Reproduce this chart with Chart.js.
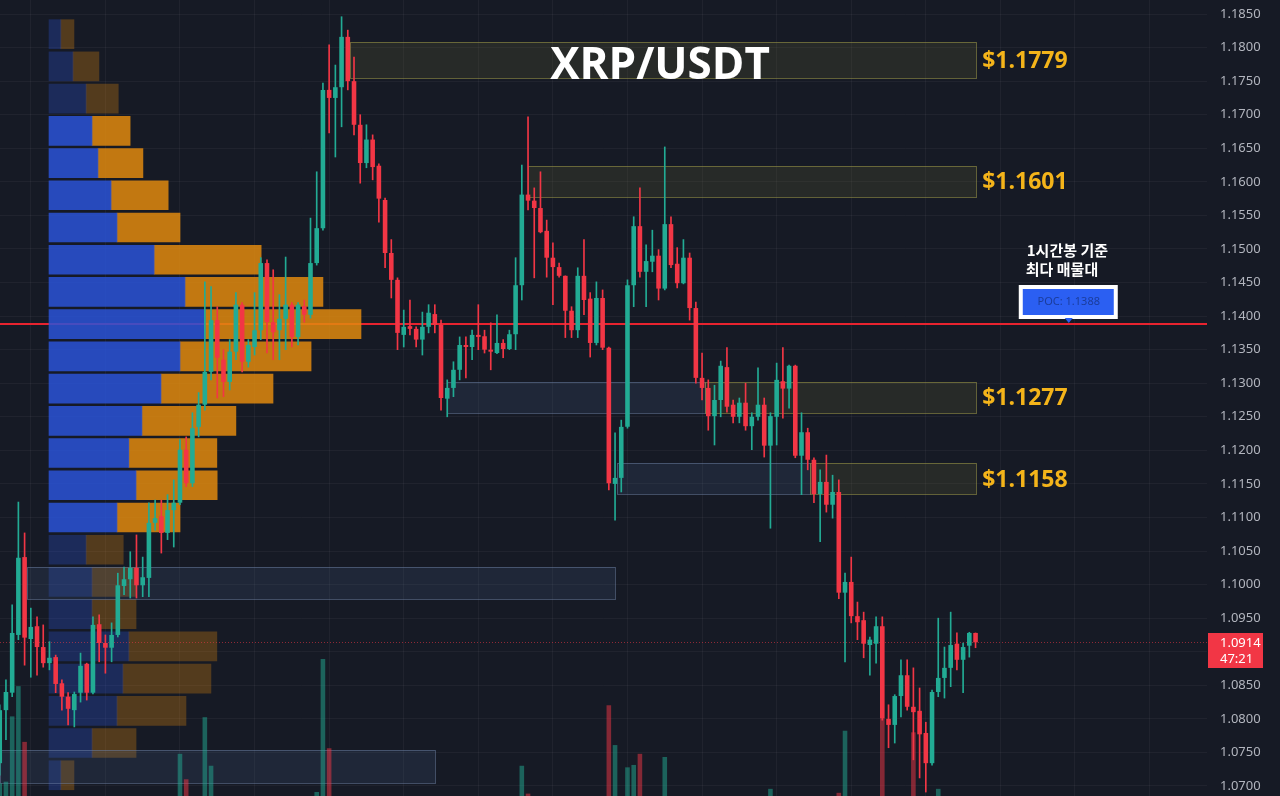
<!DOCTYPE html>
<html>
<head>
<meta charset="utf-8">
<style>
  html, body { margin: 0; padding: 0; background: #161a25; overflow: hidden; }
  #wrap { position: relative; width: 1280px; height: 796px; }
  #wrap canvas { position: absolute; left: 0; top: 0; }
</style>
<script src="https://cdn.jsdelivr.net/npm/chart.js@4.4.1/dist/chart.umd.min.js"></script>
</head>
<body>
<div id="wrap">
  <canvas id="profileChart" width="1280" height="796"></canvas>
  <canvas id="priceChart" width="1280" height="796"></canvas>
</div>
<script>
// 1h candles, XRP/USDT
const opens = [
  1.0734,1.0813,1.0839,1.0925,1.1041,1.0919,1.0938,1.0907,1.0883,1.0892,
  1.0853,1.0833,1.0813,1.0839,1.0882,1.0839,1.0941,1.0913,1.0906,1.0925,
  1.0998,1.1008,1.1025,1.0999,1.1010,1.1092,1.1102,1.1077,1.1111,1.1122,
  1.1201,1.1151,1.1235,1.1268,1.1317,1.1394,1.1335,1.1302,1.1347,1.1417,
  1.1332,1.1354,1.1379,1.1479,1.1391,1.1379,1.1396,1.1417,1.1369,1.1415,
  1.1402,1.1479,1.1531,1.1737,1.1725,1.1741,1.1816,1.1750,1.1685,1.1628,
  1.1663,1.1624,1.1573,1.1494,1.1454,1.1372,1.1385,1.1381,1.1365,1.1384,
  1.1403,1.1387,1.1277,1.1293,1.1320,1.1357,1.1354,1.1372,1.1370,1.1350,
  1.1345,1.1360,1.1351,1.1373,1.1446,1.1581,1.1572,1.1561,1.1527,1.1487,
  1.1473,1.1460,1.1408,1.1379,1.1460,1.1426,1.1360,1.1427,1.1353,1.1150,
  1.1159,1.1235,1.1446,1.1534,1.1466,1.1481,1.1490,1.1441,1.1537,1.1478,
  1.1449,1.1487,1.1412,1.1308,1.1293,1.1251,1.1275,1.1324,1.1268,1.1250,
  1.1271,1.1236,1.1250,1.1268,1.1207,1.1250,1.1303,1.1292,1.1326,1.1192,
  1.1227,1.1186,1.1135,1.1153,1.1119,1.1138,1.0988,1.1004,1.0953,1.0947,
  1.0910,1.0912,1.0938,1.0800,1.0791,1.0834,1.0865,1.0818,1.0812,1.0779,
  1.0734,1.0840,1.0861,1.0876,1.0912,1.0888,1.0909,1.0928
];
const highs = [
  1.0821,1.0858,1.0970,1.1123,1.1077,1.0965,1.0952,1.0940,1.0915,1.0895,
  1.0858,1.0839,1.0840,1.0898,1.0883,1.0952,1.0955,1.0925,1.0943,1.1017,
  1.1026,1.1049,1.1074,1.1041,1.1122,1.1126,1.1126,1.1134,1.1156,1.1216,
  1.1220,1.1256,1.1286,1.1451,1.1444,1.1414,1.1350,1.1365,1.1435,1.1420,
  1.1365,1.1435,1.1487,1.1484,1.1469,1.1432,1.1488,1.1420,1.1420,1.1424,
  1.1546,1.1615,1.1747,1.1804,1.1774,1.1846,1.1826,1.1786,1.1700,1.1685,
  1.1670,1.1627,1.1576,1.1514,1.1457,1.1409,1.1424,1.1384,1.1406,1.1417,
  1.1417,1.1394,1.1305,1.1332,1.1369,1.1369,1.1379,1.1417,1.1379,1.1390,
  1.1402,1.1365,1.1379,1.1487,1.1625,1.1697,1.1591,1.1615,1.1543,1.1509,
  1.1479,1.1460,1.1414,1.1472,1.1514,1.1435,1.1451,1.1439,1.1354,1.1226,
  1.1245,1.1454,1.1548,1.1591,1.1506,1.1528,1.1499,1.1652,1.1548,1.1502,
  1.1514,1.1494,1.1421,1.1345,1.1305,1.1297,1.1333,1.1353,1.1275,1.1278,
  1.1300,1.1256,1.1323,1.1278,1.1256,1.1330,1.1353,1.1327,1.1327,1.1256,
  1.1233,1.1189,1.1171,1.1193,1.1163,1.1156,1.1017,1.1041,1.0974,1.0959,
  1.0922,1.0952,1.0952,1.0821,1.0836,1.0888,1.0888,1.0876,1.0846,1.0795,
  1.0843,1.0950,1.0907,1.0959,1.0928,1.0913,1.0929,1.0928
];
const lows = [
  1.0716,1.0769,1.0833,1.0918,1.0880,1.0862,1.0865,1.0877,1.0873,1.0839,
  1.0813,1.0791,1.0788,1.0825,1.0828,1.0837,1.0885,1.0868,1.0885,1.0922,
  1.0985,1.0980,1.0980,1.0982,1.0982,1.1081,1.1047,1.1067,1.1056,1.1119,
  1.1146,1.1146,1.1220,1.1260,1.1305,1.1278,1.1280,1.1290,1.1335,1.1317,
  1.1324,1.1342,1.1365,1.1345,1.1335,1.1335,1.1350,1.1354,1.1357,1.1391,
  1.1397,1.1476,1.1528,1.1673,1.1637,1.1682,1.1737,1.1670,1.1598,1.1621,
  1.1603,1.1540,1.1472,1.1427,1.1350,1.1354,1.1372,1.1354,1.1342,1.1375,
  1.1375,1.1260,1.1250,1.1280,1.1305,1.1308,1.1335,1.1350,1.1345,1.1320,
  1.1344,1.1338,1.1350,1.1350,1.1424,1.1558,1.1457,1.1524,1.1458,1.1417,
  1.1458,1.1368,1.1368,1.1368,1.1402,1.1339,1.1357,1.1350,1.1141,1.1096,
  1.1138,1.1233,1.1414,1.1458,1.1414,1.1466,1.1424,1.1439,1.1472,1.1442,
  1.1448,1.1394,1.1300,1.1275,1.1230,1.1208,1.1250,1.1257,1.1241,1.1241,
  1.1230,1.1201,1.1245,1.1190,1.1084,1.1208,1.1248,1.1263,1.1189,1.1134,
  1.1171,1.1122,1.1064,1.1108,1.1099,1.0979,1.0885,1.0943,1.0918,1.0891,
  1.0865,1.0883,1.0798,1.0757,1.0764,1.0803,1.0813,1.0739,1.0712,1.0691,
  1.0731,1.0833,1.0831,1.0848,1.0873,1.0839,1.0892,1.0906
];
const closes = [
  1.0813,1.0840,1.0928,1.1040,1.0921,1.0937,1.0907,1.0883,1.0891,1.0852,
  1.0833,1.0815,1.0837,1.0879,1.0839,1.0940,1.0913,1.0906,1.0925,1.0999,
  1.1008,1.1025,1.0999,1.1011,1.1092,1.1099,1.1077,1.1111,1.1122,1.1201,
  1.1151,1.1233,1.1268,1.1317,1.1394,1.1338,1.1302,1.1347,1.1417,1.1332,
  1.1357,1.1379,1.1479,1.1391,1.1376,1.1396,1.1417,1.1369,1.1417,1.1402,
  1.1479,1.1531,1.1737,1.1725,1.1741,1.1816,1.1750,1.1685,1.1628,1.1663,
  1.1622,1.1575,1.1494,1.1454,1.1375,1.1384,1.1381,1.1365,1.1384,1.1405,
  1.1387,1.1278,1.1293,1.1320,1.1357,1.1354,1.1372,1.1369,1.1350,1.1347,
  1.1360,1.1351,1.1373,1.1446,1.1581,1.1572,1.1561,1.1525,1.1487,1.1473,
  1.1460,1.1408,1.1379,1.1460,1.1424,1.1360,1.1427,1.1353,1.1151,1.1159,
  1.1235,1.1446,1.1534,1.1466,1.1482,1.1490,1.1441,1.1537,1.1476,1.1449,
  1.1487,1.1412,1.1308,1.1293,1.1251,1.1275,1.1326,1.1265,1.1250,1.1271,
  1.1236,1.1250,1.1268,1.1207,1.1251,1.1305,1.1292,1.1326,1.1192,1.1227,
  1.1186,1.1135,1.1153,1.1119,1.1138,1.0988,1.1004,1.0953,1.0944,1.0912,
  1.0918,1.0938,1.0801,1.0791,1.0834,1.0865,1.0818,1.0810,1.0777,1.0734,
  1.0840,1.0861,1.0876,1.0910,1.0888,1.0907,1.0928,1.0914
];

// volume (only the bars that reach into view)
const volIndex = [0,1,2,3,4,29,30,33,34,51,52,53,84,85,98,99,101,102,103,107,124,135,136,142,147,151];
const volValue = [16,18,100,138,68,53,21,99,38,5,172,60,38,3,114,64,36,39,53,49,9,4,82,98,80,9];

// volume profile rows (top -> bottom)
const profileLevels = [1.1820,1.1772,1.1724,1.1676,1.1628,1.1580,1.1532,1.1484,1.1436,1.1388,1.1340,1.1292,
                       1.1244,1.1196,1.1148,1.1100,1.1052,1.1004,1.0956,1.0908,1.0860,1.0812,1.0764,1.0716];
const profileUp   = [3.8,7.7,11.9,13.8,15.7,19.9,21.8,33.7,43.6,50.0,42.0,35.9,29.8,25.6,27.9,21.8,11.9,13.8,13.8,25.6,23.7,21.8,13.8,3.8];
const profileDown = [4.2,8.3,10.3,12.2,14.4,18.3,20.2,34.3,44.2,50.0,42.0,35.9,30.1,28.2,26.0,20.2,11.9,14.1,14.1,28.2,28.2,22.1,14.1,4.2];
const valueAreaHigh = 1.1676;
const valueAreaLow = 1.1100;
const pocPrice = 1.1388;
const lastPrice = 1.0914;
const countdown = '47:21';

// zones
const zoneFrom  = [56.3, 85.0, 72.0, 113.5, 99.3, 130.3, 4.4, 0];
const zoneTo    = [157.1, 157.1, 113.5, 157.1, 130.3, 157.1, 99.0, 70.0];
const zoneHigh  = [1.1809, 1.1624, 1.1302, 1.1302, 1.1181, 1.1181, 1.1026, 1.0754];
const zoneLow   = [1.1755, 1.1578, 1.1256, 1.1256, 1.1135, 1.1135, 1.0979, 1.0704];
const zoneKind  = ['res','res','sup','res','sup','res','sup','sup'];
const zoneLabel = ['$1.1779','$1.1601',null,'$1.1277',null,'$1.1158',null,null];

const priceTicks = [];
for (let v = 1070; v <= 1185; v += 5) priceTicks.push(v / 1000);
const gridIdx = [5,17,29,41,53,65,77,89,101,113,125,137,149,161,173,185];

const priceMin = 1.06851, priceMax = 1.18709;
const idxMin = 0.043, idxMax = 194.24;
const pocAnchor = 172;

const BG = '#161a25';
const GRID = 'rgba(255,255,255,0.045)';
const UP = '#22ab94', DOWN = '#f23645';

const isUp = i => closes[i] >= opens[i];
const candleColors = opens.map((o, i) => isUp(i) ? UP : DOWN);

// ---------- volume profile (bottom layer) ----------
const inVA = p => p <= valueAreaHigh + 0.0001 && p >= valueAreaLow - 0.0001;

const bgPlugin = {
  id: 'bg',
  beforeDraw(chart) {
    const c = chart.ctx;
    c.save();
    c.fillStyle = BG;
    c.fillRect(0, 0, chart.width, chart.height);
    c.restore();
  }
};

const pocLine = {
  id: 'pocLine',
  beforeDatasetsDraw(chart) {
    const { ctx, chartArea: a, scales: { y } } = chart;
    const py = Math.round(y.getPixelForValue(pocPrice));
    ctx.save();
    ctx.strokeStyle = '#e8232f';
    ctx.lineWidth = 2;
    ctx.beginPath();
    ctx.moveTo(a.left, py);
    ctx.lineTo(a.right, py);
    ctx.stroke();
    ctx.restore();
  }
};

new Chart(document.getElementById('profileChart'), {
  type: 'bar',
  data: {
    datasets: [
      {
        label: 'up volume',
        data: profileLevels.map((p, i) => ({ x: profileUp[i], y: p })),
        backgroundColor: profileLevels.map(p => inVA(p) ? 'rgba(42,84,215,0.85)' : 'rgba(42,84,215,0.3)'),
        xAxisID: 'x', yAxisID: 'y',
        barThickness: 29
      },
      {
        label: 'down volume',
        data: profileLevels.map((p, i) => ({ x: profileDown[i], y: p })),
        backgroundColor: profileLevels.map(p => inVA(p) ? 'rgba(224,137,14,0.85)' : 'rgba(224,137,14,0.3)'),
        xAxisID: 'x', yAxisID: 'y',
        barThickness: 29
      }
    ]
  },
  options: {
    indexAxis: 'y',
    responsive: false,
    animation: false,
    events: [],
    layout: { padding: { left: 0, right: 73, top: 0, bottom: 0 } },
    plugins: { legend: { display: false }, tooltip: { enabled: false } },
    scales: {
      x: { type: 'linear', min: -15.705, max: 371.154, stacked: true, display: false },
      t: {
        type: 'linear', axis: 'x', position: 'bottom', min: idxMin, max: idxMax, offset: false,
        grid: { color: GRID, drawTicks: false },
        border: { display: false },
        ticks: { display: false },
        afterBuildTicks: s => { s.ticks = gridIdx.map(v => ({ value: v })); },
        afterFit: s => { s.height = 0; s.paddingLeft = 0; s.paddingRight = 0; }
      },
      y: {
        type: 'linear', position: 'right', min: priceMin, max: priceMax, stacked: true, offset: false,
        grid: { color: GRID, drawTicks: false, offset: false },
        border: { display: false },
        ticks: { display: false },
        afterBuildTicks: s => { s.ticks = priceTicks.map(v => ({ value: v })); },
        afterFit: s => { s.width = 0; s.paddingTop = 0; s.paddingBottom = 0; }
      }
    }
  },
  plugins: [bgPlugin, pocLine]
});

// ---------- candles (top layer) ----------
const overlay = {
  id: 'overlay',
  beforeDatasetsDraw(chart) {
    const { ctx, chartArea: a, scales: { x, y } } = chart;
    ctx.save();
    zoneFrom.forEach((f, k) => {
      const x0 = Math.round(x.getPixelForValue(f)), x1 = Math.round(x.getPixelForValue(zoneTo[k]));
      const y0 = Math.round(y.getPixelForValue(zoneHigh[k])), y1 = Math.round(y.getPixelForValue(zoneLow[k]));
      const res = zoneKind[k] === 'res';
      ctx.fillStyle = res ? 'rgba(100,100,55,0.22)' : 'rgba(70,95,135,0.2)';
      ctx.fillRect(x0, y0, x1 - x0, y1 - y0);
      ctx.strokeStyle = res ? 'rgba(150,145,70,0.6)' : 'rgba(110,130,165,0.5)';
      ctx.lineWidth = 1;
      ctx.strokeRect(x0 + 0.5, y0 + 0.5, x1 - x0, y1 - y0);
    });
    // last price dotted line
    const ly = Math.round(y.getPixelForValue(lastPrice)) + 0.5;
    ctx.setLineDash([1, 2]);
    ctx.strokeStyle = 'rgba(242,54,69,0.55)';
    ctx.beginPath();
    ctx.moveTo(a.left, ly);
    ctx.lineTo(a.right, ly);
    ctx.stroke();
    ctx.restore();
  },
  afterDatasetsDraw(chart) {
    const { ctx, chartArea: a, scales: { x, y } } = chart;
    ctx.save();

    // zone price labels
    ctx.font = 'bold 23px "Open Sans"';
    ctx.fillStyle = '#f4b41a';
    ctx.textAlign = 'left';
    ctx.textBaseline = 'alphabetic';
    zoneLabel.forEach((t, k) => {
      if (!t) return;
      const lx = x.getPixelForValue(zoneTo[k]) + 6;
      const my = (y.getPixelForValue(zoneHigh[k]) + y.getPixelForValue(zoneLow[k])) / 2;
      ctx.fillText(t, lx, my + 8);
    });

    // title
    ctx.font = 'bold 44px "Open Sans"';
    ctx.fillStyle = '#ffffff';
    ctx.textAlign = 'center';
    ctx.fillText('XRP/USDT', 660, 79);

    // POC callout
    const px = x.getPixelForValue(pocAnchor);
    const py = Math.round(y.getPixelForValue(pocPrice));
    ctx.font = 'bold 15px "Noto Sans CJK KR"';
    ctx.fillStyle = '#ffffff';
    ctx.textAlign = 'left';
    ctx.fillText('1시간봉 기준', px - 42, py - 68);
    ctx.fillText('최다 매물대', px - 43, py - 49);
    ctx.fillStyle = '#ffffff';
    ctx.fillRect(px - 50, py - 39, 99, 34);
    ctx.fillStyle = '#2b5ff2';
    ctx.fillRect(px - 46, py - 35, 91, 26);
    ctx.beginPath();
    ctx.moveTo(px - 4, py - 6);
    ctx.lineTo(px + 4, py - 6);
    ctx.lineTo(px, py - 1);
    ctx.closePath();
    ctx.fill();
    ctx.font = '11px "Noto Sans"';
    ctx.fillStyle = '#1b3d9c';
    ctx.textAlign = 'center';
    ctx.textBaseline = 'middle';
    ctx.fillText('POC: ' + pocPrice.toFixed(4), px, py - 22);

    // last price tag on axis
    const ty = Math.round(y.getPixelForValue(lastPrice));
    ctx.fillStyle = DOWN;
    ctx.fillRect(a.right + 1, ty - 9, 55, 35);
    ctx.fillStyle = '#ffffff';
    ctx.font = '13px "Noto Sans"';
    ctx.textAlign = 'left';
    ctx.fillText(lastPrice.toFixed(4), a.right + 13, ty + 1);
    ctx.fillText(countdown, a.right + 13, ty + 17);
    ctx.restore();
  }
};

new Chart(document.getElementById('priceChart'), {
  type: 'bar',
  data: {
    datasets: [
      {
        label: 'Volume',
        data: volIndex.map((i, k) => ({ x: i, y: volValue[k] })),
        backgroundColor: volIndex.map(i => isUp(i) ? 'rgba(34,171,148,0.5)' : 'rgba(242,54,69,0.5)'),
        xAxisID: 'x', yAxisID: 'v',
        grouped: false, barPercentage: 0.74, categoryPercentage: 1,
        order: 3
      },
      {
        label: 'Wick',
        data: opens.map((o, i) => ({ x: i, y: [lows[i], highs[i]] })),
        backgroundColor: candleColors,
        xAxisID: 'x', yAxisID: 'y',
        grouped: false, barPercentage: 1, categoryPercentage: 1, maxBarThickness: 1,
        order: 2
      },
      {
        label: 'XRP/USDT',
        data: opens.map((o, i) => ({ x: i, y: [o, closes[i]] })),
        backgroundColor: candleColors,
        xAxisID: 'x', yAxisID: 'y',
        grouped: false, barPercentage: 0.74, categoryPercentage: 1, minBarLength: 1,
        order: 1
      }
    ]
  },
  options: {
    responsive: false,
    animation: false,
    events: [],
    layout: { padding: 0 },
    plugins: { legend: { display: false }, tooltip: { enabled: false } },
    scales: {
      x: { type: 'linear', min: idxMin, max: idxMax, offset: false, display: false },
      y: {
        type: 'linear', position: 'right', min: priceMin, max: priceMax,
        grid: { display: false, drawTicks: false },
        border: { display: false },
        ticks: {
          color: '#b2b5be',
          font: { family: '"Noto Sans"', size: 13 },
          padding: 13,
          callback: v => Number(v).toFixed(4)
        },
        afterBuildTicks: s => { s.ticks = priceTicks.map(v => ({ value: v })); },
        afterFit: s => { s.width = 73; s.paddingTop = 0; s.paddingBottom = 0; }
      },
      v: { type: 'linear', display: false, min: 0, max: 1000 }
    }
  },
  plugins: [overlay]
});
</script>
</body>
</html>
